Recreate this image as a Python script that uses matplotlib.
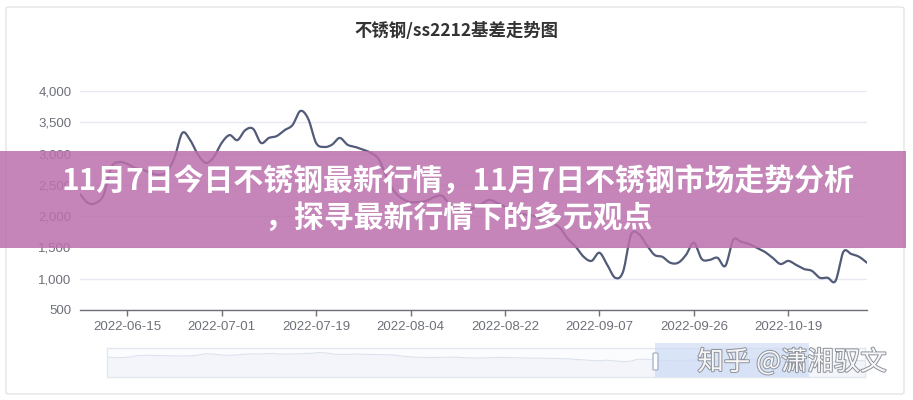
import matplotlib
matplotlib.use("Agg")
import matplotlib.pyplot as plt
import numpy as np
from matplotlib.patches import FancyBboxPatch, Rectangle
import matplotlib.patheffects as pe

# ---------------- data ----------------
title = "不锈钢/ss2212基差走势图"
banner_line1 = "11月7日今日不锈钢最新行情，11月7日不锈钢市场走势分析"
banner_line2 = "，探寻最新行情下的多元观点"
watermark = "知乎 @潇湘驭文"

june_days = [7, 8, 9, 10, 13, 14, 15, 16, 17, 20, 21, 22, 23, 24, 27, 28, 29, 30]
july_days = [1, 4, 5, 6, 7, 8, 11, 12, 13, 14, 15, 18, 19, 20, 21, 22, 25, 26, 27, 28, 29]
aug_days = [1, 2, 3, 4, 5, 8, 9, 10, 11, 12, 15, 16, 17, 18, 19, 22, 23, 24, 25, 26, 29, 30, 31]
sep_days = [1, 2, 5, 6, 7, 8, 9, 13, 14, 15, 16, 19, 20, 21, 22, 23, 26, 27, 28, 29, 30]
oct_days = [10, 11, 12, 13, 14, 17, 18, 19, 20, 21, 24, 25, 26, 27, 28, 31]
nov_days = [1, 2]

basis = [2355, 2210, 2210, 2340, 2785, 2865, 2835, 2770, 2740, 2690,
         2660, 2705, 2930, 3330, 3215, 2980, 2850, 2945, 3170, 3295,
         3215, 3375, 3395, 3170, 3250, 3280, 3375, 3455, 3680, 3555,
         3170, 3105, 3140, 3250, 3140, 3105, 3060, 3010, 2900, 2610,
         2385, 2275, 2225, 2225, 2245, 2305, 2325, 2180, 2100, 2070,
         2130, 2195, 2260, 2210, 2150, 2085, 2035, 2020, 1990, 1940,
         1890, 1810, 1635, 1510, 1350, 1285, 1415, 1220, 1015, 1110,
         1700, 1715, 1540, 1380, 1350, 1255, 1255, 1380, 1575, 1315,
         1300, 1335, 1205, 1620, 1590, 1555, 1495, 1430, 1335, 1235,
         1285, 1220, 1155, 1125, 1015, 1015, 965, 1430, 1395, 1350,
         1255]

y_ticks = [500, 1000, 1500, 2000, 2500, 3000, 3500, 4000]

dates = ([f"2022-06-{d:02d}" for d in june_days] + [f"2022-07-{d:02d}" for d in july_days] +
         [f"2022-08-{d:02d}" for d in aug_days] + [f"2022-09-{d:02d}" for d in sep_days] +
         [f"2022-10-{d:02d}" for d in oct_days] + [f"2022-11-{d:02d}" for d in nov_days])

# ---------------- helpers ----------------
W, H = 913, 400
fig = plt.figure(figsize=(W / 100, H / 100), dpi=100)
fig.patch.set_facecolor("white")


def fx(px):
    return px / W


def fy(py):
    return 1 - py / H


def catmull(x, y, n=12):
    x = np.asarray(x, float)
    y = np.asarray(y, float)
    P = np.column_stack([x, y])
    P = np.vstack([P[0], P, P[-1]])
    out = []
    t = np.linspace(0, 1, n, endpoint=False)
    for i in range(1, len(P) - 2):
        p0, p1, p2, p3 = P[i - 1], P[i], P[i + 1], P[i + 2]
        tt = t[:, None]
        pts = 0.5 * ((2 * p1) + (-p0 + p2) * tt + (2 * p0 - 5 * p1 + 4 * p2 - p3) * tt ** 2 +
                     (-p0 + 3 * p1 - 3 * p2 + p3) * tt ** 3)
        out.append(pts)
    out.append(P[-2][None, :])
    out = np.vstack(out)
    return out[:, 0], out[:, 1]


# card border
card = FancyBboxPatch((fx(6), fy(394)), fx(904) - fx(6), fy(7) - fy(394),
                      boxstyle="round,pad=0,rounding_size=0.004",
                      transform=fig.transFigure, facecolor="white",
                      edgecolor="#e4e4e4", linewidth=1.0, zorder=-5)
fig.patches.append(card)

# title
fig.text(fx(456), fy(31), title, ha="center", va="center", fontsize=12.5,
         fontweight="bold", color="#333333",
         family=["Noto Sans CJK SC", "DejaVu Sans"])

# ---------------- main axes ----------------
ax = fig.add_axes([fx(80), fy(310), fx(867) - fx(80), fy(91) - fy(310)])
ax.set_zorder(1)
ax.set_facecolor("none")
idx = np.arange(len(basis))
sx, sy = catmull(idx, basis)
ax.plot(sx, sy, color="#525b77", linewidth=1.6, solid_capstyle="round", zorder=3)

ax.set_xlim(0, len(basis) - 1)
ax.set_ylim(500, 4000)
ax.set_yticks(y_ticks)
ax.set_yticklabels([f"{v:,}" for v in y_ticks])
tick_idx = list(range(6, len(basis), 12))
ax.set_xticks(tick_idx)
ax.set_xticklabels([dates[i] for i in tick_idx])

for s in ["top", "right", "left"]:
    ax.spines[s].set_visible(False)
ax.spines["bottom"].set_color("#6e7079")
ax.spines["bottom"].set_linewidth(1.0)
ax.grid(axis="y", color="#e6e9f0", linewidth=1.0, zorder=0)
ax.set_axisbelow(True)
ax.tick_params(axis="y", length=0, pad=6, labelsize=9.5, labelcolor="#6e7079")
ax.tick_params(axis="x", length=4, width=1, color="#6e7079", pad=4,
               labelsize=9.5, labelcolor="#6e7079")
for lab in ax.get_xticklabels() + ax.get_yticklabels():
    lab.set_family(["Liberation Sans", "DejaVu Sans"])

# ---------------- slider ----------------
sax = fig.add_axes([fx(107), fy(377), fx(865) - fx(107), fy(348) - fy(377)])
sax.set_zorder(1)
sax.set_xlim(0, len(basis) - 1)
sax.set_ylim(-3500, 5000)
sax.fill_between(idx, basis, -3500, color="#f3f5fa", linewidth=0)
sax.plot(idx, basis, color="#dde3ee", linewidth=0.8)
sax.set_xticks([])
sax.set_yticks([])
for s in sax.spines.values():
    s.set_color("#e3e7ef")
    s.set_linewidth(1.0)
sax.set_facecolor("#fbfcfe")

sel = Rectangle((fx(655), fy(377)), fx(809) - fx(655), fy(343) - fy(377),
                transform=fig.transFigure, facecolor="#cfdcf5", alpha=0.75,
                edgecolor="none", zorder=5)
fig.patches.append(sel)
topbar = Rectangle((fx(655), fy(348)), fx(809) - fx(655), fy(343) - fy(348),
                   transform=fig.transFigure, facecolor="#dfe7f7", alpha=0.9,
                   edgecolor="none", zorder=5)
fig.patches.append(topbar)
handle = FancyBboxPatch((fx(653), fy(370)), fx(658) - fx(653), fy(353) - fy(370),
                        boxstyle="round,pad=0,rounding_size=0.002",
                        transform=fig.transFigure, facecolor="white",
                        edgecolor="#a7b7cc", linewidth=1.0, zorder=6)
fig.patches.append(handle)

# ---------------- banner ----------------
banner = Rectangle((0, fy(248)), fx(906), fy(151) - fy(248), transform=fig.transFigure,
                   facecolor="#bb70ad", alpha=0.85, edgecolor="none", zorder=10)
fig.patches.append(banner)
fig.text(fx(458), fy(182), banner_line1, ha="center", va="center", fontsize=21.5,
         fontweight="bold", color="white", zorder=11,
         family=["Noto Sans CJK SC", "DejaVu Sans"])
fig.text(fx(458), fy(218), banner_line2, ha="center", va="center", fontsize=21.5,
         fontweight="bold", color="white", zorder=11,
         family=["Noto Sans CJK SC", "DejaVu Sans"])

# watermark
fig.text(fx(792), fy(362), watermark, ha="center", va="center", fontsize=19,
         color="#f7f7f7", zorder=12, fontweight="light",
         family=["Noto Sans CJK SC", "DejaVu Sans"],
         path_effects=[pe.withStroke(linewidth=1.4, foreground="#8d939c")])

fig.savefig("out.png", dpi=100, facecolor="white")
